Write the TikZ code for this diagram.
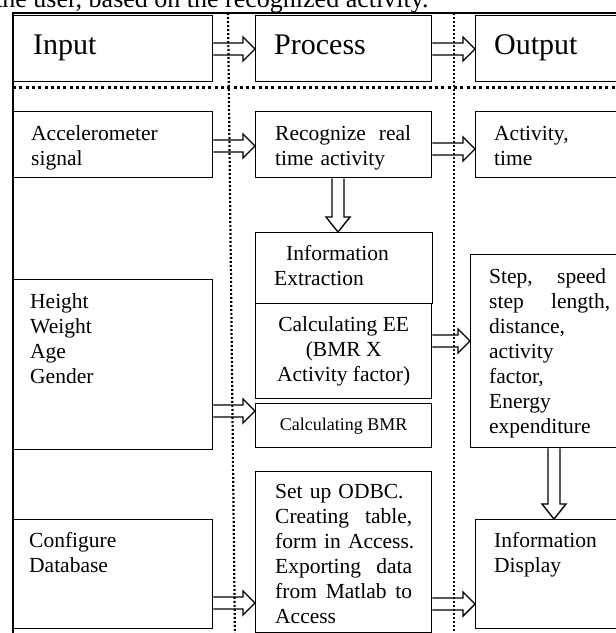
\documentclass[tikz,border=0pt]{standalone}
\usepackage{fontspec}
\setmainfont{Liberation Serif}
\usetikzlibrary{calc}

% hollow block arrows
\newcommand\fatright[3]{%
\draw[hollow] let \p1=(#1.east), \p2=(#2.west), \p3=(0,#3) in
 (\x1,\y3+6pt) -- (\x2-12pt,\y3+6pt) -- (\x2-12pt,\y3+12pt) -- (\x2,\y3)
 -- (\x2-12pt,\y3-12pt) -- (\x2-12pt,\y3-6pt) -- (\x1,\y3-6pt);}
\newcommand\fatdown[3]{%
\draw[hollow] let \p1=(#1.south), \p2=(#2.north), \p3=(#3,0) in
 (\x3-6pt,\y1) -- (\x3-6pt,\y2+15pt) -- (\x3-12pt,\y2+15pt) -- (\x3,\y2)
 -- (\x3+12pt,\y2+15pt) -- (\x3+6pt,\y2+15pt) -- (\x3+6pt,\y1);}
% justified line
\newcommand\jline[3]{\makebox[#1][l]{#2\hfill #3}}

\begin{document}
\begin{tikzpicture}[x=1pt,y=-1pt]
\tikzstyle{box}=[draw,line width=1.4pt,rectangle,anchor=north west,inner sep=0pt]
\tikzstyle{txt}=[anchor=base west,inner sep=0pt,align=left,text width=160pt,
font=\fontsize{21.5}{25}\selectfont]
\tikzstyle{head}=[txt,font=\fontsize{30}{34}\selectfont]
\tikzstyle{hollow}=[line width=1.4pt,line join=miter]
\tikzstyle{hsep}=[line width=3pt,dash pattern=on 3pt off 3.3pt]
\tikzstyle{vsep}=[line width=2.2pt,dash pattern=on 2pt off 2pt]
\tikzstyle{frame}=[line width=1.4pt]
\useasboundingbox (0,0) rectangle (616,633);
\clip (0,0) rectangle (616,633);
%textedupapier
\node[anchor=base west,inner sep=0pt,font=\fontsize{26}{30}\selectfont] (cap) at (-5,7)
 {the user, based on the recognized activity.};
\draw[frame] (640,13) -- (13,13) -- (13,640);
%entetes
\node[box,minimum width=199pt,minimum height=66pt,
 label={[head,xshift=20pt,yshift=-39pt]north west:Input}] (inp) at (13,15) {};
\node[box,minimum width=176pt,minimum height=66pt,
 label={[head,xshift=19pt,yshift=-39pt]north west:Process}] (proc) at (255,15) {};
\node[box,minimum width=165pt,minimum height=66pt,
 label={[head,xshift=19pt,yshift=-39pt]north west:Output}] (outp) at (475,15) {};
%colonneentree
\node[box,minimum width=199pt,minimum height=66pt,
 label={[txt,xshift=18pt,yshift=-29pt]north west:{Accelerometer\\signal}}] (acc) at (13,111) {};
\node[box,minimum width=199pt,minimum height=170pt,
 label={[txt,xshift=17pt,yshift=-29pt]north west:{Height\\Weight\\Age\\Gender}}] (hw) at (13,279) {};
\node[box,minimum width=199pt,minimum height=109pt,
 label={[txt,xshift=16pt,yshift=-28pt]north west:{Configure\\Database}}] (conf) at (13,519) {};
%colonnetraitement
\node[box,minimum width=176pt,minimum height=66pt,
 label={[txt,xshift=20pt,yshift=-29pt]north west:{\jline{136pt}{Recognize}{real}\\time activity}}] (recog) at (255,111) {};
\node[box,minimum width=177pt,minimum height=71pt,
 label={[txt,xshift=19pt,yshift=-28pt]north west:{\hspace*{12pt}Information\\Extraction}}] (infoext) at (255,232) {};
\node[box,minimum width=176pt,minimum height=95pt,align=center,
 font=\fontsize{21.5}{25}\selectfont] (calcee) at (255,303) {Calculating EE\\(BMR X\\Activity factor)};
\node[box,minimum width=176pt,minimum height=44pt,
 font=\fontsize{18}{21}\selectfont] (calcbmr) at (255,403) {Calculating BMR};
\node[box,minimum width=176pt,minimum height=161pt,
 label={[txt,xshift=20pt,yshift=-27pt]north west:{Set up ODBC.\\\jline{137pt}{Creating}{table,}\\form in Access.\\\jline{137pt}{Exporting}{data}\\\makebox[137pt][l]{from\hfill Matlab\hfill to}\\Access}}] (odbc) at (255,471) {};
%colonnesortie
\node[box,minimum width=165pt,minimum height=66pt,
 label={[txt,xshift=19pt,yshift=-29pt]north west:{Activity,\\time}}] (act) at (475,111) {};
\node[box,minimum width=170pt,minimum height=193pt,
 label={[txt,xshift=19pt,yshift=-29pt]north west:{\jline{117pt}{Step,}{speed}\\\jline{121pt}{step}{length,}\\distance,\\activity\\factor,\\Energy\\expenditure}}] (step) at (470,254) {};
\node[box,minimum width=165pt,minimum height=109pt,
 label={[txt,xshift=19pt,yshift=-28pt]north west:{Information\\Display}}] (infodisp) at (475,519) {};
%fleches
\fatright{inp}{proc}{49}
\fatright{proc}{outp}{49}
\fatright{acc}{recog}{146}
\fatright{recog}{act}{149}
\fatright{calcee}{step}{341}
\fatright{hw}{calcbmr}{411}
\fatright{conf}{odbc}{603}
\fatright{odbc}{infodisp}{604}
\fatdown{recog}{infoext}{338}
\fatdown{step}{infodisp}{554}
%separateurs
\draw[hsep] (13,87) -- (640,87);
\draw[vsep] (228,13) -- (235,640);
\draw[vsep] (454,13) -- (454,640);
\end{tikzpicture}
\end{document}
